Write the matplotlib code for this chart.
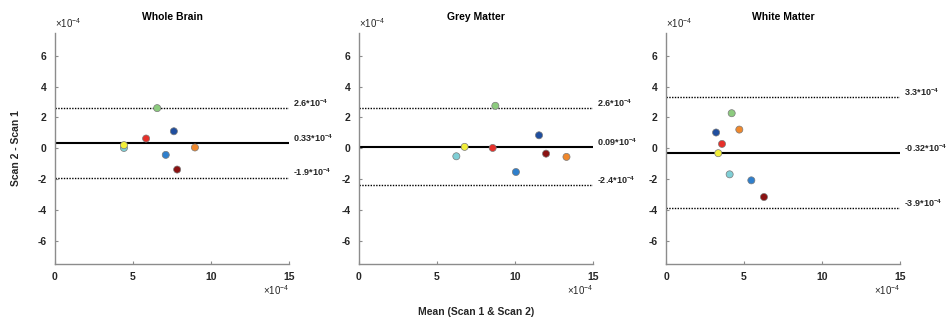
import matplotlib
matplotlib.use("Agg")
import matplotlib.pyplot as plt

plt.rcParams['font.family'] = ['Liberation Sans', 'DejaVu Sans']
plt.rcParams['axes.unicode_minus'] = False
plt.rcParams['mathtext.fontset'] = 'custom'
plt.rcParams['mathtext.rm'] = 'Liberation Sans'
plt.rcParams['mathtext.bf'] = 'Liberation Sans:bold'

titles = ["Whole Brain", "Grey Matter", "White Matter"]
colors = ["#1f4e9e", "#2f7fcc", "#7fcfd6", "#8ccb7e", "#f2ef3a", "#f0882c", "#e6302a", "#8a1212"]

# values in units of 1e-4
wb_mean = [7.62, 7.10, 4.42, 6.55, 4.42, 8.97, 5.84, 7.83]
wb_diff = [1.10, -0.43, 0.02, 2.60, 0.20, 0.05, 0.63, -1.38]
gm_mean = [11.54, 10.06, 6.24, 8.74, 6.77, 13.30, 8.57, 11.99]
gm_diff = [0.84, -1.54, -0.52, 2.75, 0.09, -0.56, 0.02, -0.35]
wm_mean = [3.21, 5.47, 4.08, 4.21, 3.35, 4.70, 3.59, 6.28]
wm_diff = [1.02, -2.08, -1.69, 2.27, -0.32, 1.21, 0.28, -3.16]

bias = [0.33, 0.09, -0.32]
upper = [2.6, 2.6, 3.3]
lower = [-1.9, -2.4, -3.9]
bias_lbl = ["0.33", "0.09", "-0.32"]
upper_lbl = ["2.6", "2.6", "3.3"]
lower_lbl = ["-1.9", "-2.4", "-3.9"]

means = [wb_mean, gm_mean, wm_mean]
diffs = [wb_diff, gm_diff, wm_diff]

fig = plt.figure(figsize=(9.52, 3.23), dpi=100)
lefts = [55/952, 359/952, 666/952]
w = 234/952
bottom = 1 - 264/323
h = (264 - 32.5)/323
spine_c = "#8c8c8c"
fs = 7.5
tc = '#262626'

for i in range(3):
    ax = fig.add_axes([lefts[i], bottom, w, h])
    ax.set_xlim(0, 15)
    ax.set_ylim(-7.5, 7.5)
    for s in ['top', 'right']:
        ax.spines[s].set_visible(False)
    for s in ['left', 'bottom']:
        ax.spines[s].set_color(spine_c)
        ax.spines[s].set_linewidth(1.0)
    ax.set_xticks([0, 5, 10, 15])
    ax.set_yticks([-6, -4, -2, 0, 2, 4, 6])
    ax.tick_params(direction='in', length=2.5, color=spine_c, labelsize=fs, pad=6)
    for lab in ax.get_xticklabels() + ax.get_yticklabels():
        lab.set_fontweight('bold')
        lab.set_color(tc)
    ax.set_title(titles[i], fontsize=fs, fontweight='bold', pad=9)
    ax.axhline(bias[i], color='black', lw=1.5, zorder=2)
    ax.axhline(upper[i], color='black', lw=1.0, ls=(0, (1, 1)), zorder=2)
    ax.axhline(lower[i], color='black', lw=1.0, ls=(0, (1, 1)), zorder=2)
    ax.scatter(means[i], diffs[i], s=26, c=colors, edgecolors='#7a7a7a', linewidths=0.5, zorder=3)
    for val, lbl in zip([upper[i], bias[i], lower[i]], [upper_lbl[i], bias_lbl[i], lower_lbl[i]]):
        ax.text(15.25, val + 0.32, lbl + r"*10$^{\mathbf{-4}}$", fontsize=6.5, fontweight='bold',
                va='center', ha='left', clip_on=False, color=tc)
    ax.text(0.0, 1.01, r"$\times$10$^{-4}$", transform=ax.transAxes, fontsize=7, ha='left', va='bottom', color=tc)
    ax.text(1.0, -0.085, r"$\times$10$^{-4}$", transform=ax.transAxes, fontsize=7, ha='right', va='top', color=tc)
    if i == 0:
        ax.set_ylabel("Scan 2 - Scan 1", fontsize=fs, fontweight='bold', labelpad=12, color=tc)

fig.text(476/952, 1 - 312/323, "Mean (Scan 1 & Scan 2)", fontsize=fs, fontweight='bold', ha='center', va='center', color=tc)

fig.savefig("out.png", dpi=100)
